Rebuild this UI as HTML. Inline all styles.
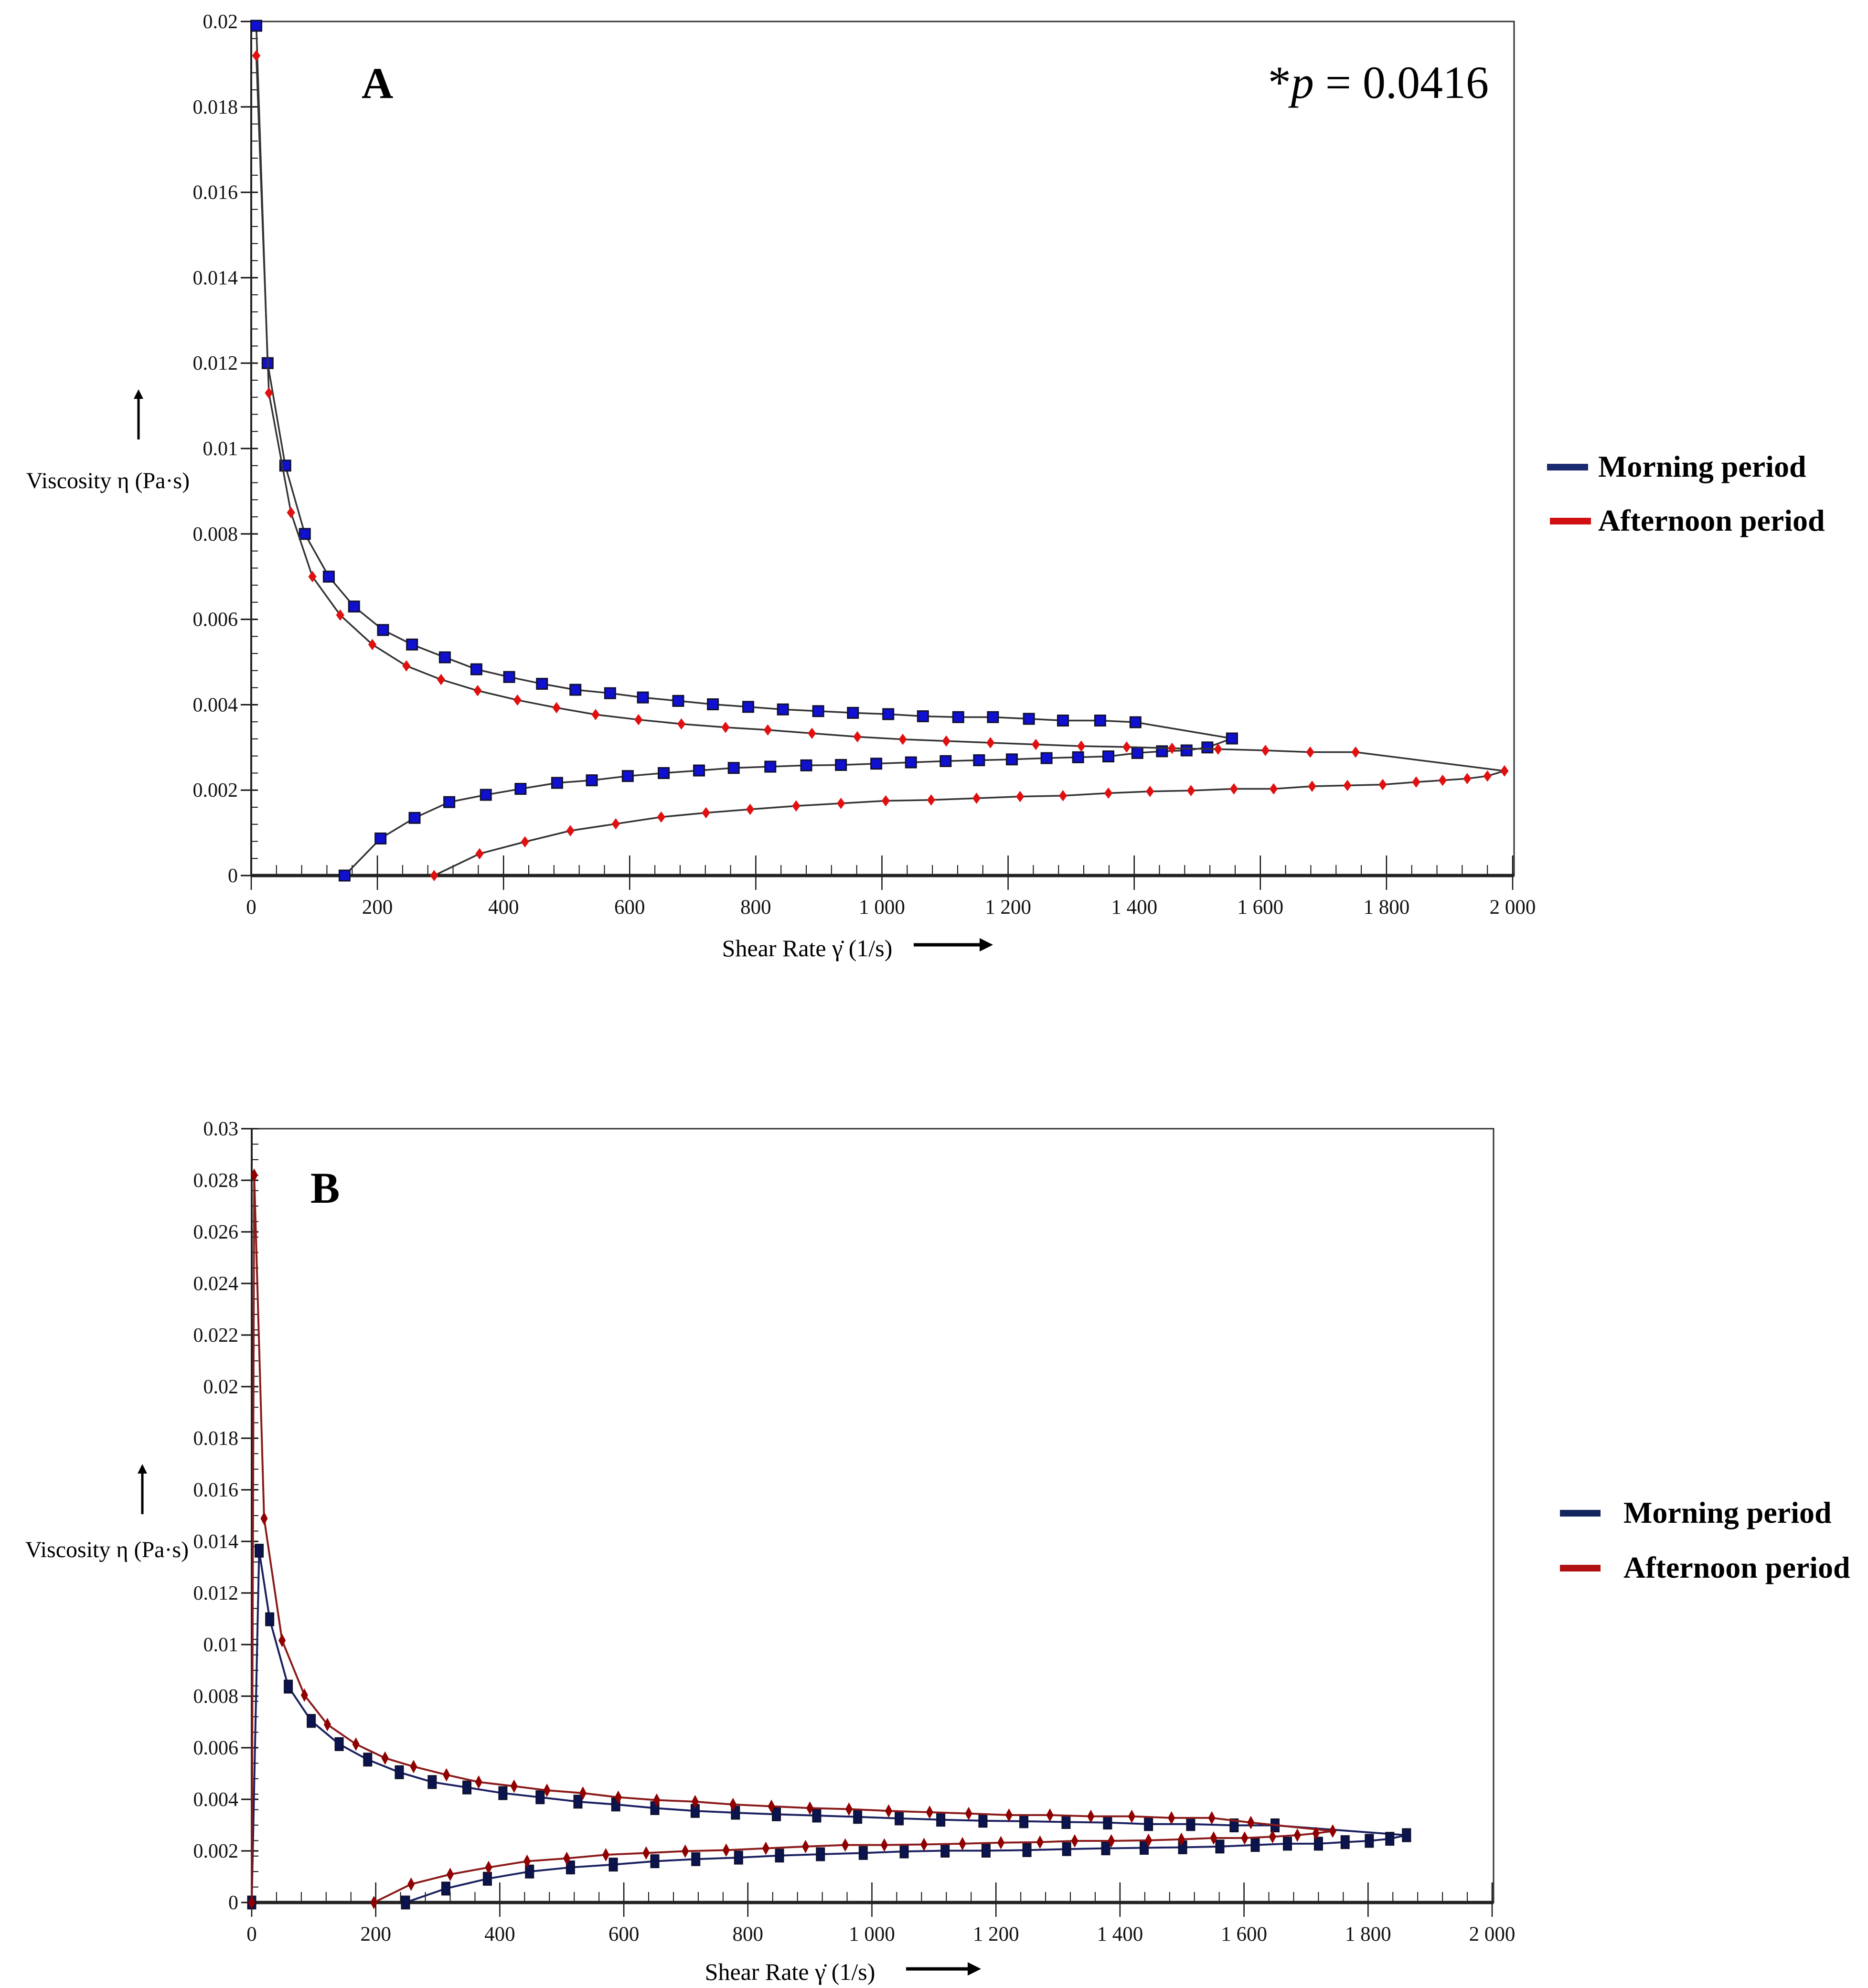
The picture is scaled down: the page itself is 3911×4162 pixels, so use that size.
<!DOCTYPE html>
<html><head><meta charset="utf-8">
<style>
html,body{margin:0;padding:0;background:#fff;}
svg{display:block;}
text{font-family:"Liberation Serif",serif;}
</style></head>
<body>
<svg id="chart" width="3911" height="4162" viewBox="0 0 3911 4162" xmlns="http://www.w3.org/2000/svg">
<rect width="3911" height="4162" fill="#fff"/>
<g id="panelA"></g>
<g id="panelB"></g>
</svg>
<script>
// ---- Panel A data ----
const aMorningUpX = [8,26,54,85,123,163,209,255,307,357,409,461,514,569,621,677,732,788,843,899,954,1010,1065,1121,1176,1233,1287,1346,1402,1555];
const aMorningUpY = [0.0199,0.0120,0.0096,0.0080,0.0070,0.0063,0.00575,0.00541,0.00511,0.00483,0.00465,0.00449,0.00435,0.00427,0.00417,0.00409,0.00401,0.00395,0.00389,0.00385,0.00381,0.00378,0.00373,0.00371,0.00371,0.00367,0.00363,0.00363,0.00359,0.00321];
const aMorningDownX = [148,205,259,314,372,427,485,540,597,654,710,765,823,880,935,991,1046,1101,1154,1206,1261,1311,1359,1405,1444,1483,1516,1555];
const aMorningDownY = [0,0.000868,0.00135,0.00172,0.00189,0.00203,0.00217,0.00223,0.00233,0.0024,0.00246,0.00252,0.00255,0.00258,0.00259,0.00262,0.00265,0.00268,0.0027,0.00272,0.00275,0.00277,0.00279,0.00287,0.00291,0.00293,0.003,0.00321];
const aAfterUpX = [8,28,63,97,141,192,246,301,359,422,484,546,614,682,752,819,889,961,1033,1102,1172,1244,1316,1388,1460,1533,1608,1679,1751,1987];
const aAfterUpY = [0.0192,0.0113,0.0085,0.0070,0.0061,0.00541,0.00491,0.00459,0.00433,0.00411,0.00393,0.00377,0.00365,0.00355,0.00347,0.00341,0.00333,0.00325,0.00319,0.00315,0.00311,0.00307,0.00303,0.00301,0.00298,0.00296,0.00293,0.00289,0.00289,0.00245];
const aAfterDownX = [290,362,434,506,578,650,721,791,864,935,1006,1078,1150,1219,1287,1359,1425,1490,1558,1621,1682,1738,1794,1847,1889,1928,1960,1987];
const aAfterDownY = [0,0.00051,0.00079,0.00105,0.00121,0.00137,0.00147,0.00155,0.00163,0.00169,0.00175,0.00177,0.00181,0.00185,0.00187,0.00193,0.00197,0.00199,0.00203,0.00203,0.00209,0.00211,0.00213,0.00219,0.00223,0.00227,0.00233,0.00245];
const aYTicks = [0,0.002,0.004,0.006,0.008,0.01,0.012,0.014,0.016,0.018,0.02];
const aYLabels = ["0","0.002","0.004","0.006","0.008","0.01","0.012","0.014","0.016","0.018","0.02"];
// ---- Panel B data ----
const bMorningUpX = [0,12,29,59,96,141,187,238,291,347,405,465,526,587,650,715,780,846,911,977,1044,1111,1179,1245,1313,1380,1446,1514,1584,1650,1862];
const bMorningUpY = [0,0.01364,0.01098,0.00837,0.00704,0.00614,0.00554,0.00505,0.00467,0.00446,0.00424,0.00408,0.00391,0.0038,0.00366,0.00355,0.00348,0.00342,0.00337,0.00332,0.00326,0.00321,0.00317,0.00315,0.00312,0.0031,0.00304,0.00304,0.00299,0.00299,0.00261];
const bMorningDownX = [248,313,380,448,514,583,650,716,785,851,917,986,1052,1118,1184,1250,1314,1377,1439,1501,1561,1618,1670,1720,1763,1802,1835,1862];
const bMorningDownY = [0,0.00054,0.00092,0.0012,0.00136,0.00147,0.0016,0.00168,0.00174,0.00182,0.00187,0.00192,0.00198,0.00201,0.00201,0.00203,0.00207,0.0021,0.00212,0.00214,0.00217,0.00223,0.00228,0.00228,0.00234,0.00239,0.00247,0.00261];
const bAfterUpX = [0,4,20,49,85,122,168,215,261,314,366,423,476,534,591,653,715,776,838,900,963,1027,1093,1156,1221,1287,1353,1419,1483,1548,1611,1743];
const bAfterUpY = [0,0.0282,0.01489,0.01016,0.00804,0.0069,0.00614,0.0056,0.00527,0.00495,0.00467,0.00451,0.00435,0.00424,0.00408,0.00397,0.00391,0.0038,0.00373,0.00366,0.00362,0.00355,0.0035,0.00345,0.00339,0.00339,0.00334,0.00334,0.00328,0.00328,0.0031,0.00277];
const bAfterDownX = [197,257,320,382,444,508,571,636,699,765,829,893,957,1020,1084,1146,1208,1271,1327,1386,1446,1499,1551,1601,1646,1686,1716,1743];
const bAfterDownY = [0,0.00071,0.00109,0.00136,0.0016,0.00171,0.00185,0.00192,0.00199,0.00203,0.0021,0.00217,0.00223,0.00223,0.00225,0.00228,0.00232,0.00234,0.00239,0.00239,0.00241,0.00245,0.0025,0.0025,0.00255,0.00261,0.00268,0.00277];
const bYTicks = [0,0.002,0.004,0.006,0.008,0.01,0.012,0.014,0.016,0.018,0.02,0.022,0.024,0.026,0.028,0.03];
const bYLabels = ["0","0.002","0.004","0.006","0.008","0.01","0.012","0.014","0.016","0.018","0.02","0.022","0.024","0.026","0.028","0.03"];
const xTicks = [0,200,400,600,800,1000,1200,1400,1600,1800,2000];
const xLabels = ["0","200","400","600","800","1 000","1 200","1 400","1 600","1 800","2 000"];

const NS = "http://www.w3.org/2000/svg";
function mk(parent, tag, attrs, txt) {
  const e = document.createElementNS(NS, tag);
  for (const k in attrs) e.setAttribute(k, attrs[k]);
  if (txt !== undefined) e.textContent = txt;
  parent.appendChild(e);
  return e;
}

function drawPanel(g, cfg) {
  const sx = v => cfg.x0 + (v / 2000) * (cfg.x1 - cfg.x0);
  const sy = v => cfg.y0 - (v / cfg.ymax) * (cfg.y0 - cfg.y1);
  const fr = mk(g, 'rect', {x: cfg.x0, y: cfg.y1, width: cfg.xr - cfg.x0, height: cfg.y0 - cfg.y1, fill: 'none', stroke: '#333', 'stroke-width': 3});
  
  
  for (let v = 0; v <= 2000; v += 40) {
    mk(g, 'line', {x1: sx(v), x2: sx(v), y1: cfg.y0, y2: cfg.y0 - 22, stroke: '#111', 'stroke-width': 2});
  }
  xTicks.forEach((v, i) => {
    mk(g, 'line', {x1: sx(v), x2: sx(v), y1: cfg.y0 - 42, y2: cfg.y0 + 30, stroke: '#111', 'stroke-width': 2.5});
    const t = mk(g, 'text', {x: sx(v), y: cfg.y0 + 80, 'font-size': 43, 'text-anchor': 'middle', fill: '#111'}, xLabels[i]);
    
    
  });
  const minorStep = cfg.ymax / 50;
  for (let k = 0; k <= 50; k++) {
    mk(g, 'line', {x1: cfg.x0, x2: cfg.x0 + 14, y1: sy(k * minorStep), y2: sy(k * minorStep), stroke: '#111', 'stroke-width': 2});
  }
  cfg.yTicks.forEach((v, i) => {
    mk(g, 'line', {x1: cfg.x0 - 22, x2: cfg.x0 + 14, y1: sy(v), y2: sy(v), stroke: '#111', 'stroke-width': 3});
    const t = mk(g, 'text', {x: cfg.x0 - 28, y: sy(v) + 14, 'font-size': 42, 'text-anchor': 'end', fill: '#111'}, cfg.yLabels[i]);
    
    
  });
  mk(g, 'line', {x1: cfg.x0, x2: cfg.xr, y1: cfg.y0, y2: cfg.y0, stroke: '#222', 'stroke-width': 7});
  mk(g, 'line', {x1: cfg.x0, x2: cfg.x0, y1: cfg.y1, y2: cfg.y0, stroke: '#222', 'stroke-width': 4});

  cfg.series.forEach(s => {
    const sg = mk(g, 'g', {});
    
    
    const pts = s.xs.map((x, i) => sx(x) + ',' + sy(s.ys[i])).join(' ');
    mk(sg, 'polyline', {points: pts, fill: 'none', stroke: s.line, 'stroke-width': cfg.lw});
    s.xs.forEach((x, i) => {
      const cx = sx(x), cy = sy(s.ys[i]);
      let m;
      if (s.shape === 'square') {
        m = mk(sg, 'rect', {x: cx - cfg.sqW / 2, y: cy - cfg.sqH / 2, width: cfg.sqW, height: cfg.sqH, fill: s.fill, stroke: '#101030', 'stroke-width': 3});
      } else {
        const w = cfg.dW / 2, h = cfg.dH / 2;
        m = mk(sg, 'polygon', {points: `${cx},${cy - h} ${cx + w},${cy} ${cx},${cy + h} ${cx - w},${cy}`, fill: s.fill, stroke: s.fill, 'stroke-width': 1});
      }
      
      
    });
  });
}

const gA = document.getElementById('panelA');
drawPanel(gA, {
  x0: 526, x1: 3167, xr: 3170, y0: 1833, y1: 45, ymax: 0.02, yTicks: aYTicks, yLabels: aYLabels,
  lw: 3.5, sqW: 22, sqH: 22, dW: 16, dH: 22,
  series: [
    {name: 'morning-up-curve', xs: aMorningUpX, ys: aMorningUpY, shape: 'square', fill: '#1010d0', line: '#333'},
    {name: 'morning-down-curve', xs: aMorningDownX, ys: aMorningDownY, shape: 'square', fill: '#1010d0', line: '#333'},
    {name: 'afternoon-up-curve', xs: aAfterUpX, ys: aAfterUpY, shape: 'diamond', fill: '#e01010', line: '#333'},
    {name: 'afternoon-down-curve', xs: aAfterDownX, ys: aAfterDownY, shape: 'diamond', fill: '#e01010', line: '#333'}
  ]
});
const gB = document.getElementById('panelB');
drawPanel(gB, {
  x0: 527, x1: 3124, xr: 3127, y0: 3983, y1: 2363, ymax: 0.03, yTicks: bYTicks, yLabels: bYLabels,
  lw: 4, sqW: 16, sqH: 26, dW: 14, dH: 26,
  series: [
    {name: 'morning-up-curve', xs: bMorningUpX, ys: bMorningUpY, shape: 'square', fill: '#0a1450', line: '#1a2060'},
    {name: 'morning-down-curve', xs: bMorningDownX, ys: bMorningDownY, shape: 'square', fill: '#0a1450', line: '#1a2060'},
    {name: 'afternoon-up-curve', xs: bAfterUpX, ys: bAfterUpY, shape: 'diamond', fill: '#900000', line: '#8a1a1a'},
    {name: 'afternoon-down-curve', xs: bAfterDownX, ys: bAfterDownY, shape: 'diamond', fill: '#900000', line: '#8a1a1a'}
  ]
});
</script>
<svg style="position:absolute;left:0;top:0" width="3911" height="4162" xmlns="http://www.w3.org/2000/svg">
<defs>
<marker id="ah" viewBox="0 0 10 10" refX="5" refY="5" markerWidth="4" markerHeight="4" orient="auto"><path d="M0,0 L10,5 L0,10 z" fill="#000"/></marker>
</defs>
<text x="757" y="205" font-size="92" font-weight="bold" font-family="Liberation Serif, serif">A</text>
<text x="3117" y="205" font-size="96" text-anchor="end" font-family="Liberation Serif, serif">*<tspan font-style="italic">p</tspan> = 0.0416</text>
<line x1="290" y1="920" x2="290" y2="825" stroke="#000" stroke-width="5" marker-end="url(#ah)"/>
<text x="226" y="1022" font-size="48" text-anchor="middle" font-family="Liberation Serif, serif">Viscosity η (Pa·s)</text>
<text x="1690" y="2002" font-size="50" text-anchor="middle" font-family="Liberation Serif, serif">Shear Rate γ̇ (1/s)</text>
<line x1="1913" y1="1978" x2="2065" y2="1978" stroke="#000" stroke-width="7" marker-end="url(#ah)"/>
<line x1="3239" y1="978" x2="3325" y2="978" stroke="#1a2a70" stroke-width="14"/>
<text x="3346" y="998" font-size="64" font-weight="bold" font-family="Liberation Serif, serif">Morning period</text>
<line x1="3245" y1="1091" x2="3331" y2="1091" stroke="#d01010" stroke-width="14"/>
<text x="3346" y="1111" font-size="64" font-weight="bold" font-family="Liberation Serif, serif">Afternoon period</text>
<text x="650" y="2518" font-size="92" font-weight="bold" font-family="Liberation Serif, serif">B</text>
<line x1="298" y1="3170" x2="298" y2="3075" stroke="#000" stroke-width="5" marker-end="url(#ah)"/>
<text x="224" y="3260" font-size="48" text-anchor="middle" font-family="Liberation Serif, serif">Viscosity η (Pa·s)</text>
<text x="1654" y="4145" font-size="50" text-anchor="middle" font-family="Liberation Serif, serif">Shear Rate γ̇ (1/s)</text>
<line x1="1897" y1="4122" x2="2040" y2="4122" stroke="#000" stroke-width="7" marker-end="url(#ah)"/>
<line x1="3266" y1="3168" x2="3351" y2="3168" stroke="#14245e" stroke-width="14"/>
<text x="3399" y="3188" font-size="64" font-weight="bold" font-family="Liberation Serif, serif">Morning period</text>
<line x1="3266" y1="3283" x2="3351" y2="3283" stroke="#b01010" stroke-width="14"/>
<text x="3399" y="3303" font-size="64" font-weight="bold" font-family="Liberation Serif, serif">Afternoon period</text>
</svg>
</body></html>
